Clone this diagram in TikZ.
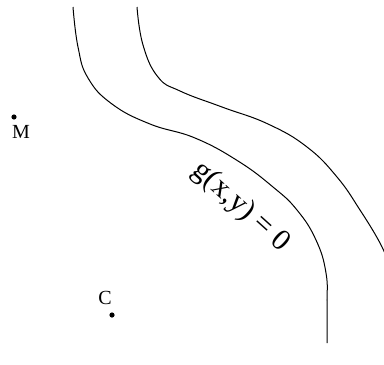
\documentclass[tikz,border=0pt]{standalone}
\usepackage{fontspec}
\setmainfont{Liberation Serif}
\begin{document}
\begin{tikzpicture}[x=0.5pt,y=-0.5pt,
  curve/.style={line width=0.5pt},
  pt/.style={circle,fill=black,inner sep=0pt,minimum size=2.6pt},
  lab/.style={font=\fontsize{10}{12}\selectfont,inner sep=0pt}]
\useasboundingbox (0,0) rectangle (384,364);
\clip (0,0) rectangle (384,364);
\draw[curve] plot[smooth,tension=0.75] coordinates {(73,7) (78,47) (88,78) (112,104) (150,124) (195,138) (238,161) (273,187) (297,210) (316,240) (326,273) (327,305) (327,343)};
\draw[curve] plot[smooth,tension=0.75] coordinates {(137,7) (143,45) (158,77) (180,91) (222,107) (268,124) (307,147) (337,177) (360,210) (380,243) (388,262)};
\node[pt] (m) at (14,117) {};
\node[lab] (mlab) at (21,132) {M};
\node[pt] (c) at (112,315) {};
\node[lab] (clab) at (105,298) {C};
\node[inner sep=0pt,rotate=-42,font=\fontsize{15}{18}\selectfont] (g) at (241,207) {g(x,y) = 0};
\end{tikzpicture}
\end{document}
